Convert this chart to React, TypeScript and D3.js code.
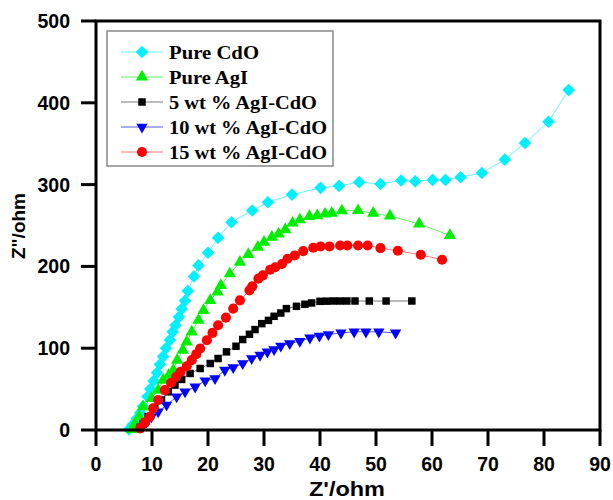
import React from "react";
import * as d3 from "d3";

const seriesNames = ["Pure CdO", "Pure AgI", "5 wt % AgI-CdO", "10 wt % AgI-CdO", "15 wt % AgI-CdO"];

const cdoX = [5.9, 6.6, 7.3, 7.9, 8.4, 9.2, 9.7, 10.3, 10.9, 11.4, 12.0, 12.5, 13.2, 13.7, 14.2, 14.8, 15.3, 15.9, 16.4, 17.5, 18.3, 20.0, 21.8, 24.2, 27.9, 30.7, 35.0, 40.1, 43.4, 47.0, 50.8, 54.5, 57.0, 60.1, 62.4, 65.1, 68.9, 73.0, 76.6, 80.8, 84.4];
const cdoY = [0.8, 7, 14, 21, 29, 41, 50, 60, 70, 80, 90, 100, 110, 120, 128, 138, 148, 158, 170, 187.8, 201.2, 216.7, 234.9, 254, 268.3, 278.4, 287.8, 296, 298.4, 303, 300.8, 305, 304, 305.7, 305.7, 309, 314.2, 330.5, 350.8, 376.8, 415.5];

const agiX = [6.4, 7.0, 7.7, 8.4, 9.9, 11.1, 12.0, 13.0, 13.8, 14.5, 15.5, 16.2, 17.1, 18.3, 19.2, 20.4, 21.7, 22.3, 23.9, 25.7, 27.2, 28.9, 30.0, 31.4, 32.6, 33.8, 35.1, 36.4, 38.1, 39.5, 40.9, 42.1, 43.9, 46.8, 49.5, 52.5, 57.7, 63.2];
const agiY = [0.8, 8, 16.2, 28.4, 38.6, 48.8, 61, 67, 73.2, 85.4, 97.6, 107.7, 119.9, 134.1, 146.3, 158.5, 168.7, 176.8, 191, 205.3, 214.6, 223.6, 229.7, 235.8, 239.8, 245, 253, 257, 261, 262, 264, 265, 268, 268.3, 265, 261.8, 252, 237.8];

const wt5X = [7.9, 8.4, 9.3, 10.5, 11.7, 12.9, 14.1, 15.3, 16.8, 18.6, 20.4, 21.8, 23.3, 25.0, 26.2, 27.4, 28.4, 29.6, 30.8, 31.8, 33.0, 34.0, 35.8, 37.3, 38.5, 40.0, 41.2, 42.4, 43.6, 44.8, 46.25, 48.8, 51.8, 56.4];
const wt5Y = [2, 7.3, 16.2, 26.4, 36.6, 46.7, 54.9, 61.8, 69.1, 75.2, 81.3, 87.4, 95.5, 102.4, 110.6, 117, 122.8, 130, 134, 139, 143, 148.4, 151.2, 153.7, 155.3, 157.3, 157.5, 157.7, 157.7, 157.7, 157.7, 157.7, 157.7, 157.7];

const wt10X = [8.2, 9.05, 9.9, 11.1, 12.6, 14.4, 15.9, 17.7, 19.5, 21.25, 23.0, 24.5, 26.2, 27.8, 29.3, 30.6, 31.8, 33.0, 34.6, 36.4, 38.2, 39.9, 41.5, 43.75, 46.1, 48.2, 50.5, 53.5];
const wt10Y = [4, 10.1, 16.2, 22.3, 30.5, 40.6, 46.7, 52.8, 60.2, 63, 73.2, 76.4, 81.3, 87.4, 91.5, 95.5, 98.4, 102.8, 105.7, 108.5, 112.6, 115, 116.7, 118.7, 120, 120, 120, 118.7];

const wt15X = [7.9, 8.75, 9.6, 10.2, 11.1, 12.3, 13.4, 14.3, 15.1, 16.2, 17.1, 17.9, 18.6, 19.8, 20.8, 21.8, 23.2, 24.5, 25.7, 27.4, 27.9, 29.0, 29.8, 31.1, 32.0, 33.2, 34.2, 35.5, 37.0, 38.8, 40.1, 41.7, 43.6, 44.9, 46.8, 48.5, 50.8, 53.9, 58.0, 61.8];
const wt15Y = [2, 9, 16.2, 26.4, 36.6, 48.8, 57.7, 65, 71.1, 78, 85.4, 92.7, 99.6, 109.8, 118.7, 128, 137.4, 148.4, 158.5, 170.7, 175.6, 185, 189, 196, 199, 203, 209.3, 213.4, 218.7, 222.8, 224.4, 224.4, 225.6, 225.6, 225.6, 225.6, 222.3, 219.1, 214.2, 208.1];

const xTicks = [0, 10, 20, 30, 40, 50, 60, 70, 80, 90];
const yTicks = [0, 100, 200, 300, 400, 500];

const colors = ["#00F0FF", "#00EE00", "#000000", "#0000FF", "#FF0000"];
const lineColors = ["#66F4FF", "#66EE66", "#777777", "#5555FF", "#FF7777"];
const legendTextWidths = [90, 79, 148, 158, 158];

const L = 96, R = 600, T = 21, B = 430;

const xScale = d3.scaleLinear().domain([0, 90]).range([L, R]);
const yScale = d3.scaleLinear().domain([0, 500]).range([B, T]);

type Sym = { type: d3.SymbolType; size: number; rot: number };
const symbols: Sym[] = [
  { type: d3.symbolSquare, size: 80, rot: 45 },
  { type: d3.symbolTriangle, size: 66, rot: 0 },
  { type: d3.symbolSquare, size: 56, rot: 0 },
  { type: d3.symbolTriangle, size: 56, rot: 180 },
  { type: d3.symbolCircle, size: 80, rot: 0 },
];

const series = [
  { xs: cdoX, ys: cdoY },
  { xs: agiX, ys: agiY },
  { xs: wt5X, ys: wt5Y },
  { xs: wt10X, ys: wt10Y },
  { xs: wt15X, ys: wt15Y },
];

const sansFont = "'Liberation Sans', Arial, Helvetica, sans-serif";
const serifFont = "'Liberation Serif', 'Times New Roman', serif";

export default function App() {
  const line = d3.line<[number, number]>().x((d) => xScale(d[0])).y((d) => yScale(d[1]));
  return (
    <svg width={613} height={500} style={{ position: "absolute", left: 0, top: 0, background: "#fff" }}>
      <rect x={0} y={0} width={613} height={500} fill="#fff" />
      {series.map((s, i) => {
        const pts: [number, number][] = s.xs.map((x, j) => [x, s.ys[j]]);
        const path = d3.symbol().type(symbols[i].type).size(symbols[i].size)();
        return (
          <g key={i}>
            <path d={line(pts) || ""} fill="none" stroke={lineColors[i]} strokeWidth={1} />
            {pts.map((p, j) => (
              <path
                key={j}
                d={path || ""}
                fill={colors[i]}
                transform={`translate(${xScale(p[0])},${yScale(p[1])}) rotate(${symbols[i].rot})`}
              />
            ))}
          </g>
        );
      })}
      {/* frame */}
      <rect x={L} y={T} width={R - L} height={B - T} fill="none" stroke="#000" strokeWidth={3} />
      {xTicks.map((t) => (
        <g key={"x" + t}>
          <line x1={xScale(t)} x2={xScale(t)} y1={B} y2={B + 16} stroke="#000" strokeWidth={3} />
          <text x={xScale(t)} y={471} textAnchor="middle" fontFamily={sansFont} fontWeight="bold" fontSize={19.5} fill="#000">
            {t}
          </text>
        </g>
      ))}
      {yTicks.map((t) => (
        <g key={"y" + t}>
          <line x1={L - 15} x2={L} y1={yScale(t)} y2={yScale(t)} stroke="#000" strokeWidth={3} />
          <text x={70} y={yScale(t) + 7} textAnchor="end" fontFamily={sansFont} fontWeight="bold" fontSize={19.5} fill="#000">
            {t}
          </text>
        </g>
      ))}
      <text x={347} y={496} textAnchor="middle" fontFamily={sansFont} fontWeight="bold" fontSize={20} fill="#000" textLength={76} lengthAdjust="spacingAndGlyphs">
        Z'/ohm
      </text>
      <text
        transform={`translate(25,226) rotate(-90)`}
        textAnchor="middle"
        fontFamily={sansFont}
        fontWeight="bold"
        fontSize={19}
        fill="#000"
      >
        Z"/ohm
      </text>
      {/* legend */}
      <rect x={107} y={31} width={226} height={135} fill="#fff" stroke="#888" strokeWidth={1.5} />
      {seriesNames.map((name, i) => {
        const cy = 52 + i * 25;
        const path = d3.symbol().type(symbols[i].type).size(symbols[i].size)();
        return (
          <g key={name}>
            <line x1={121} x2={163} y1={cy} y2={cy} stroke={lineColors[i]} strokeWidth={1} />
            <path d={path || ""} fill={colors[i]} transform={`translate(142,${cy}) rotate(${symbols[i].rot})`} />
            <text
              x={169}
              y={cy + 6.5}
              fontFamily={serifFont}
              fontWeight="bold"
              fontSize={19}
              fill="#000"
              textLength={legendTextWidths[i]}
              lengthAdjust="spacingAndGlyphs"
            >
              {name}
            </text>
          </g>
        );
      })}
    </svg>
  );
}
